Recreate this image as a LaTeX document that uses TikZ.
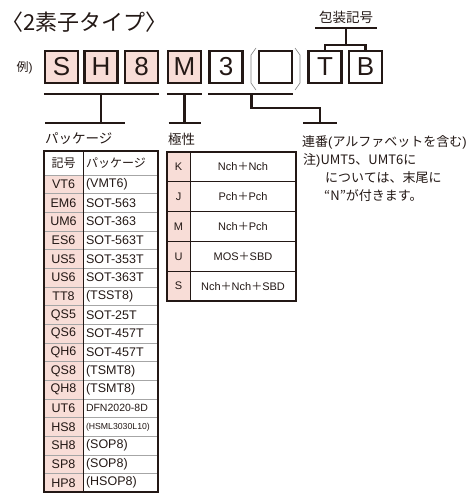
\documentclass[tikz,border=0pt]{standalone}
\usepackage{fontspec}
\setmainfont{Liberation Sans}
\newfontfamily\jp{Noto Sans CJK JP}
\usetikzlibrary{positioning}
\definecolor{ink}{RGB}{35,24,21}
\definecolor{rose}{RGB}{248,221,215}
\newcommand\jplus{{\jp ＋}}
\tikzset{
code box/.style={draw=ink,line width=2.2pt,minimum width=33pt,minimum height=32pt,inner sep=0pt,text=ink,font=\fontsize{26}{26}\selectfont},
pink box/.style={code box,fill=rose},
bracket line/.style={draw=ink,line width=2.5pt},
tag text/.style={anchor=west,inner sep=0pt,text=ink,font=\jp\fontsize{13.5}{15}\selectfont},
pkg code/.style={fill=rose,draw=gray!70,line width=0.5pt,minimum width=39pt,minimum height=18.65pt,inner sep=0pt,text=ink,font=\fontsize{12.5}{12.5}\selectfont},
pkg name/.style={draw=gray!70,line width=0.5pt,minimum width=75pt,minimum height=18.65pt,text width=69pt,inner xsep=3pt,inner ysep=0pt,align=left,text=ink,font=\fontsize{12.5}{12.5}\selectfont},
pol code/.style={fill=rose,draw=ink,line width=0.8pt,minimum width=23pt,minimum height=29.8pt,inner sep=0pt,text=ink,font=\fontsize{11}{11}\selectfont},
pol name/.style={draw=ink,line width=0.8pt,minimum width=106pt,minimum height=29.8pt,inner sep=0pt,text=ink,font=\fontsize{11}{11}\selectfont},
outline/.style={draw=ink,line width=2pt}}

\begin{document}
\begin{tikzpicture}[x=1pt,y=-1pt]
\useasboundingbox (0,0) rectangle (471,495);

\node[tag text,font=\jp\fontsize{22}{24}\selectfont] (title) at (1,22) {〈2素子タイプ〉};
\node[tag text,anchor=center,font=\jp\fontsize{12}{12}\selectfont] (rei) at (24.5,68) {例\rmfamily)};

% code boxes
\node[pink box] (s) at (61.5,67) {S};
\node[pink box] (h) at (101,67) {H};
\node[pink box] (eight) at (141.5,67) {8};
\node[pink box] (m) at (184.5,67) {M};
\node[code box] (three) at (226,67) {3};
\node[code box] (blank) at (275.5,67) {};
\node[code box] (t) at (325,67) {T};
\node[code box] (b) at (365.5,67) {B};

\draw[gray,line width=0.6pt] (256,48) -- (251,55) -- (251,83) -- (256,90);
\draw[gray,line width=0.6pt] (295,48) -- (300,55) -- (300,83) -- (295,90);

% packing code
\node[tag text,anchor=center] (packing) at (346,17) {包装記号};
\coordinate (packbar) at (346,28);
\coordinate (packfork) at (346,45);
\draw[bracket line] ([xshift=-31pt]packbar) -- ([xshift=31pt]packbar);
\draw[bracket line] (packbar) -- (packfork);
\draw[bracket line] (t.north) |- (packfork) -| (b.north);

% package
\coordinate (pkgbar) at (101,123);
\draw[bracket line] ([yshift=-10pt]s.south west) -- ([yshift=-10pt]eight.south east);
\draw[bracket line] ([yshift=-10pt]h.south) -- (pkgbar);
\draw[bracket line] ([xshift=-56pt]pkgbar) -- ([xshift=24pt]pkgbar);
\node[tag text] (pkglabel) at (45,139) {パッケージ};

% polarity
\coordinate (polbar) at (184.5,123);
\draw[bracket line] ([yshift=-10pt]m.south west) -- ([yshift=-10pt]m.south east);
\draw[bracket line] ([yshift=-10pt]m.south) -- (polbar);
\draw[bracket line] ([xshift=-16pt]polbar) -- ([xshift=16pt]polbar);
\node[tag text] (pollabel) at (168,139) {極性};

% serial
\coordinate (serfork) at (251.5,93);
\coordinate (serbar) at (320,123);
\draw[bracket line] ([yshift=-10pt]three.south west) -- ([yshift=-10pt]blank.south east);
\draw[bracket line] (serfork) |- ([yshift=15pt]serbar) -- (serbar);
\draw[bracket line] ([xshift=-17pt]serbar) -- ([xshift=17pt]serbar);
\node[tag text,font=\jp\fontsize{13}{15}\selectfont] (serlabel) at (302,142) {連番{\rmfamily(}アルファベットを含む{\rmfamily)}};
\node[tag text,font=\jp\fontsize{13}{15}\selectfont] (note1) at (303,160) {注{\rmfamily)}UMT5、UMT6に};
\node[tag text,font=\jp\fontsize{13}{15}\selectfont] (note2) at (325,178) {については、末尾に};
\node[tag text,font=\jp\fontsize{13}{15}\selectfont] (note3) at (324,196) {“N”が付きます。};

% package table
\node[pkg code,minimum height=24pt,fill=white,font=\jp\fontsize{12}{12}\selectfont] (pchead) at (63.5,163) {記号};
\node[pkg name,minimum height=24pt,font=\jp\fontsize{12}{12}\selectfont] (pnhead) at (120.5,163) {パッケージ};
\foreach \c/\p [count=\i] in {VT6/(VMT6),EM6/SOT-563,UM6/SOT-363,ES6/SOT-563T,US5/SOT-353T,US6/SOT-363T,TT8/(TSST8),QS5/SOT-25T,QS6/SOT-457T,QH6/SOT-457T,QS8/(TSMT8),QH8/(TSMT8),UT6/{\fontsize{10.5}{10.5}\selectfont DFN2020-8D},HS8/{\fontsize{8.7}{9}\selectfont (HSML3030L10)},SH8/(SOP8),SP8/(SOP8),HP8/(HSOP8)}{
  \node[pkg code] (pc\i) at (63.5,{165.675+18.65*\i}) {\c};
  \node[pkg name] (pn\i) at (120.5,{165.675+18.65*\i}) {\p};
}
\draw[ink,line width=0.8pt] (pchead.north east) -- (pc17.south east);
\draw[outline] (pchead.north west) rectangle (pn17.south east);

% polarity table
\foreach \c/\p [count=\i] in {K/Nch\jplus Nch,J/Pch\jplus Pch,M/Nch\jplus Pch,U/MOS\jplus SBD,S/Nch\jplus Nch\jplus SBD}{
  \node[pol code] (qc\i) at (178.5,{137.1+29.8*\i}) {\c};
  \node[pol name] (qn\i) at (243,{137.1+29.8*\i}) {\p};
}
\draw[outline] (qc1.north west) rectangle (qn5.south east);

\end{tikzpicture}
\end{document}
